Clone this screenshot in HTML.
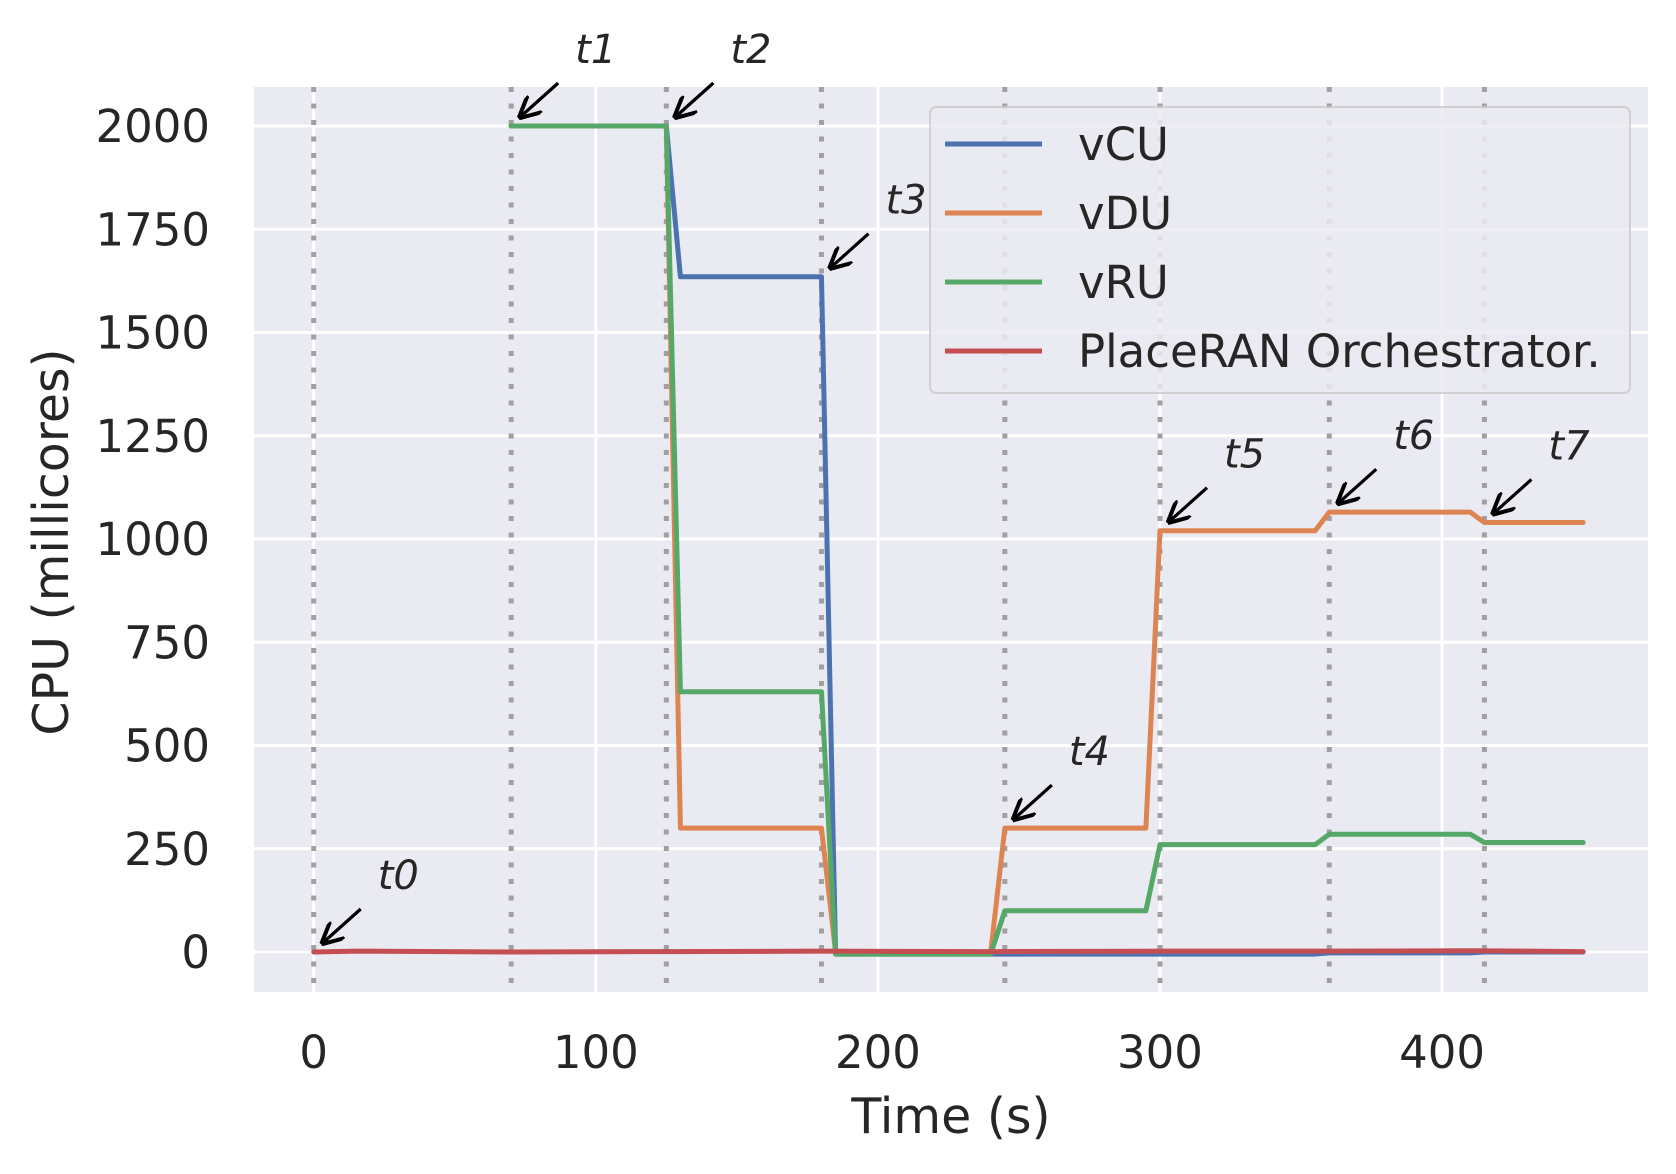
<!DOCTYPE html>
<html><head><meta charset="utf-8"><style>
body{margin:0;background:#fff}
svg text{font-family:"DejaVu Sans","Liberation Sans",sans-serif;fill:#262626}
</style></head><body>
<svg id="chart" width="1676" height="1169" viewBox="0 0 1676 1169" xmlns="http://www.w3.org/2000/svg">
<defs><marker id="ah" viewBox="0 0 10 10" refX="9" refY="5" markerWidth="7" markerHeight="7" orient="auto"><path d="M0,0 L10,5 L0,10" fill="none" stroke="#000" stroke-width="1.8"/></marker></defs>
<rect x="254" y="87" width="1394" height="905" fill="#eaeaf2"/>
<g id="grid"></g><g id="vlines"></g><g id="series"></g><g id="annots"></g><g id="ticks"></g>
<text transform="translate(68,542) rotate(-90)" text-anchor="middle" font-size="49">CPU (millicores)</text>
<text x="951" y="1133" text-anchor="middle" font-size="49">Time (s)</text>
<g>
<rect x="930" y="107" width="700" height="286" rx="6" fill="#eaeaf2" stroke="#cccccc" stroke-width="2" opacity="0.85"/>
<g id="legend-items"></g>
</g>
</svg>
<script>
const xTicks=[0,100,200,300,400];
const yTicks=[0,250,500,750,1000,1250,1500,1750,2000];
const eventTimes=[0,70,125,180,245,300,360,415];
const eventLabels=["t0","t1","t2","t3","t4","t5","t6","t7"];
const eventValues=[0,2000,2000,1635,300,1020,1065,1040];
const seriesNames=["vCU","vDU","vRU","PlaceRAN Orchestrator."];
const seriesColors=["#4c72b0","#dd8452","#55a868","#c44e52"];
const timeVCU=[70,125,130,180,185,240,245,300,355,360,410,415,450];
const valVCU=[2000,2000,1635,1635,-5,-5,-5,-5,-5,-2,-2,0,0];
const timeVDU=[70,125,130,180,185,240,245,295,300,355,360,410,415,450];
const valVDU=[2000,2000,300,300,0,0,300,300,1020,1020,1065,1065,1040,1040];
const timeVRU=[70,125,130,180,185,240,245,295,300,355,360,410,415,450];
const valVRU=[2000,2000,630,630,-5,-5,100,100,260,260,285,285,265,265];
const timeOrch=[0,15,70,125,180,240,300,360,410,450];
const valOrch=[0,2,0,1,2,1,2,2,3,1];
const X=t=>313.7+t*2.821, Y=v=>952-v*0.413;
const NS="http://www.w3.org/2000/svg";
function mk(tag,attrs,parent){const e=document.createElementNS(NS,tag);for(const k in attrs)e.setAttribute(k,attrs[k]);parent.appendChild(e);return e;}
const grid=document.getElementById('grid'),ticks=document.getElementById('ticks');
xTicks.forEach(t=>{const l=mk('line',{x1:X(t),x2:X(t),y1:87,y2:992,stroke:'#fff','stroke-width':3},grid);

const tx=mk('text',{x:X(t),y:1068,'text-anchor':'middle','font-size':45},ticks);tx.textContent=t;
});
yTicks.forEach(v=>{const l=mk('line',{x1:254,x2:1648,y1:Y(v),y2:Y(v),stroke:'#fff','stroke-width':3},grid);

const tx=mk('text',{x:210,y:Y(v)+16,'text-anchor':'end','font-size':45},ticks);tx.textContent=v;
});
const vl=document.getElementById('vlines');
eventTimes.forEach(t=>{const l=mk('line',{x1:X(t),x2:X(t),y1:87,y2:992,stroke:'#a0a0a0','stroke-width':5,'stroke-dasharray':'5,11.5'},vl);
});
const sg=document.getElementById('series');
[[timeVCU,valVCU],[timeVDU,valVDU],[timeVRU,valVRU],[timeOrch,valOrch]].forEach((s,i)=>{
const p=mk('polyline',{points:s[0].map((t,j)=>X(t)+','+Y(s[1][j])).join(' '),fill:'none',stroke:seriesColors[i],'stroke-width':5,'stroke-linejoin':'round','stroke-linecap':'round'},sg);
});
const ag=document.getElementById('annots');
eventTimes.forEach((t,i)=>{const x=X(t),y=Y(eventValues[i]);
const a=mk('line',{x1:x+47,y1:y-43,x2:x+9,y2:y-9,stroke:'#000','stroke-width':3.2,'marker-end':'url(#ah)'},ag);

const tx=mk('text',{x:x+64,y:y-63,'font-size':40,'font-style':'italic'},ag);tx.textContent=eventLabels[i];
});
const lg=document.getElementById('legend-items');
seriesNames.forEach((n,i)=>{const y=144+i*69;
const l=mk('line',{x1:945,x2:1042,y1:y,y2:y,stroke:seriesColors[i],'stroke-width':5},lg);

const tx=mk('text',{x:1078,y:y+16,'font-size':45},lg);tx.textContent=n;
});
</script>
</body></html>
